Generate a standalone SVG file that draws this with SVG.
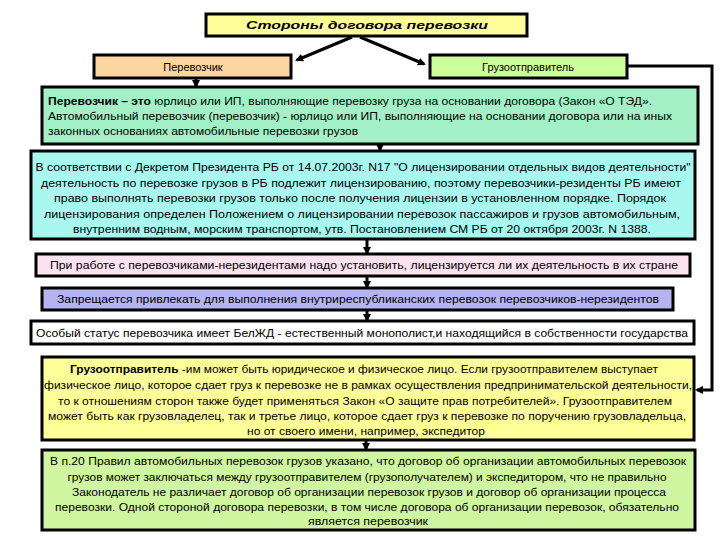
<svg xmlns="http://www.w3.org/2000/svg" width="720" height="540" viewBox="0 0 720 540">
<style>
.b{stroke:#000;stroke-width:3}
.t{font-family:"Liberation Sans",Arial,sans-serif;font-size:11px;fill:#000}
.c{text-anchor:middle}
.ln{stroke:#000;stroke-width:3;fill:none}
</style>
<defs>
<marker id="ah" markerWidth="8" markerHeight="8" refX="6" refY="4" orient="auto" markerUnits="userSpaceOnUse">
<path d="M0,0 L8,4 L0,8 Z" fill="#000"/>
</marker>
</defs>
<rect width="720" height="540" fill="#fff"/>
<g id="title">
<rect class="b" x="206" y="14" width="321" height="22" fill="#ffff99"/>
<text class="t c" x="367" y="29" font-size="13" font-weight="bold" font-style="italic" textLength="242" lengthAdjust="spacingAndGlyphs">Стороны договора перевозки</text>
</g>
<g id="carrier">
<rect class="b" x="94" y="55" width="197" height="23" fill="#fcd5a0"/>
<text class="t c" x="193" y="71">Перевозчик</text>
</g>
<g id="shipper">
<rect class="b" x="430" y="55" width="197" height="23" fill="#ccff99"/>
<text class="t c" x="528" y="71">Грузоотправитель</text>
</g>
<g id="carrier-def">
<rect class="b" x="42" y="87" width="656" height="57" fill="#a3f0c6"/>
<text class="t" x="48" y="105" textLength="604" lengthAdjust="spacingAndGlyphs"><tspan font-weight="bold">Перевозчик – это</tspan> юрлицо или ИП, выполняющие перевозку груза на основании договора (Закон «О ТЭД».</text>
<text class="t" x="48" y="120" textLength="624" lengthAdjust="spacingAndGlyphs">Автомобильный перевозчик (перевозчик) - юрлицо или ИП, выполняющие на основании договора или на иных</text>
<text class="t" x="48" y="135" textLength="310" lengthAdjust="spacingAndGlyphs">законных основаниях автомобильные перевозки грузов</text>
</g>
<g id="license">
<rect class="b" x="31" y="151" width="664" height="88" fill="#a8f8f0"/>
<text class="t c" x="363" y="171" textLength="655" lengthAdjust="spacingAndGlyphs">В соответствии с Декретом Президента РБ от 14.07.2003г. N17 "О лицензировании отдельных видов деятельности"</text>
<text class="t c" x="361" y="186.5" textLength="640" lengthAdjust="spacingAndGlyphs">деятельность по перевозке грузов в РБ подлежит лицензированию, поэтому перевозчики-резиденты РБ имеют</text>
<text class="t c" x="360" y="202" textLength="612" lengthAdjust="spacingAndGlyphs">право выполнять перевозки грузов только после получения лицензии в установленном порядке. Порядок</text>
<text class="t c" x="362" y="217.5" textLength="636" lengthAdjust="spacingAndGlyphs">лицензирования определен Положением о лицензировании перевозок пассажиров и грузов автомобильным,</text>
<text class="t c" x="362" y="233" textLength="578" lengthAdjust="spacingAndGlyphs">внутренним водным, морским транспортом, утв. Постановлением СМ РБ от 20 октября 2003г. N 1388.</text>
</g>
<g id="nonres">
<rect class="b" x="36" y="254" width="654" height="22" fill="#fde3f0"/>
<text class="t c" x="364" y="269" textLength="628" lengthAdjust="spacingAndGlyphs">При работе с перевозчиками-нерезидентами надо установить, лицензируется ли их деятельность в  их стране</text>
</g>
<g id="forbid">
<rect class="b" x="42" y="288" width="631" height="22" fill="#b4b4f0"/>
<text class="t c" x="358" y="303" textLength="602" lengthAdjust="spacingAndGlyphs">Запрещается привлекать для выполнения внутриреспубликанских перевозок перевозчиков-нерезидентов</text>
</g>
<g id="belzhd">
<rect class="b" x="31" y="321" width="663" height="23" fill="#fff"/>
<text class="t c" x="362" y="337" textLength="652" lengthAdjust="spacingAndGlyphs">Особый статус перевозчика имеет БелЖД - естественный монополист,и находящийся в собственности государства</text>
</g>
<g id="shipper-def">
<rect class="b" x="42" y="357" width="652" height="83" fill="#ffff99"/>
<text class="t c" x="364" y="373" textLength="588" lengthAdjust="spacingAndGlyphs"><tspan font-weight="bold">Грузоотправитель</tspan> -им может быть юридическое и физическое лицо. Если грузоотправителем выступает</text>
<text class="t c" x="368" y="389" textLength="648" lengthAdjust="spacingAndGlyphs">физическое лицо, которое сдает груз к перевозке не в рамках осуществления предпринимательской деятельности,</text>
<text class="t c" x="365" y="405" textLength="614" lengthAdjust="spacingAndGlyphs">то к отношениям сторон также будет применяться Закон «О защите прав потребителей». Грузоотправителем</text>
<text class="t c" x="367" y="420" textLength="638" lengthAdjust="spacingAndGlyphs">может быть как грузовладелец, так и третье лицо,  которое сдает груз к перевозке по поручению грузовладельца,</text>
<text class="t c" x="366" y="435" textLength="238" lengthAdjust="spacingAndGlyphs">но от своего имени, например, экспедитор</text>
</g>
<g id="expeditor">
<rect class="b" x="42" y="450" width="653" height="80" fill="#cff5a0"/>
<text class="t c" x="368" y="465" textLength="636" lengthAdjust="spacingAndGlyphs">В п.20 Правил автомобильных перевозок грузов указано, что договор об организации автомобильных перевозок</text>
<text class="t c" x="367" y="480.5" textLength="599" lengthAdjust="spacingAndGlyphs">грузов может заключаться между грузоотправителем (грузополучателем) и экспедитором, что не правильно</text>
<text class="t c" x="369" y="496" textLength="594" lengthAdjust="spacingAndGlyphs">Законодатель не различает договор об организации перевозок грузов и договор об организации процесса</text>
<text class="t c" x="367" y="511" textLength="624" lengthAdjust="spacingAndGlyphs">перевозки. Одной стороной договора перевозки, в том числе договора об организации перевозок, обязательно</text>
<text class="t c" x="368" y="525" textLength="120" lengthAdjust="spacingAndGlyphs">является перевозчик</text>
</g>
<g id="connectors">
<line class="ln" x1="352" y1="37" x2="297" y2="60" marker-end="url(#ah)"/>
<line class="ln" x1="360" y1="37" x2="424" y2="64" marker-end="url(#ah)"/>
<line class="ln" x1="196" y1="78" x2="196" y2="86" marker-end="url(#ah)"/>
<line class="ln" x1="380" y1="144" x2="380" y2="150" marker-end="url(#ah)"/>
<line class="ln" x1="367" y1="239" x2="367" y2="253" marker-end="url(#ah)"/>
<line class="ln" x1="367" y1="276" x2="367" y2="287" marker-end="url(#ah)"/>
<line class="ln" x1="367" y1="310" x2="367" y2="320" marker-end="url(#ah)"/>
<line class="ln" x1="366" y1="440" x2="366" y2="449" marker-end="url(#ah)"/>
<polyline class="ln" points="627,66 712,66 712,390 697,390" marker-end="url(#ah)"/>
</g>
</svg>
